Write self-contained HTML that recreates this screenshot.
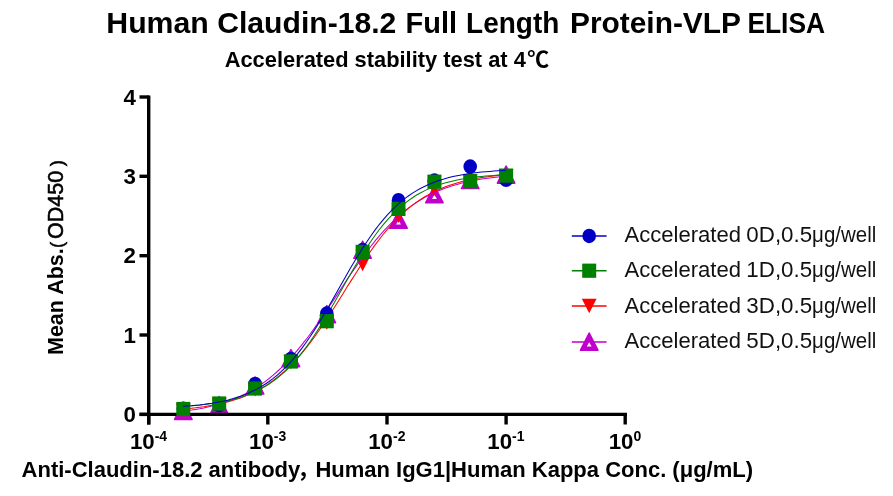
<!DOCTYPE html>
<html><head><meta charset="utf-8"><title>Human Claudin-18.2 Full Length Protein-VLP ELISA</title>
<style>
html,body{margin:0;padding:0;background:#fff;}
body{width:893px;height:496px;overflow:hidden;position:relative;font-family:"Liberation Sans","Noto Sans CJK SC",sans-serif;}
svg{position:absolute;left:0;top:0;display:block}
text{font-family:"Liberation Sans","Noto Sans CJK SC",sans-serif;fill:#000}
.tk{font-size:22.3px;font-weight:bold}
.lg{font-size:22.2px;fill:#111}
.title{font-size:28.9px;font-weight:bold}
.sub{font-size:21.85px;font-weight:bold}
.xl{font-size:22px;font-weight:bold}
.yl{font-size:21.5px;font-weight:bold}
</style></head><body>
<svg width="893" height="496" viewBox="0 0 893 496">
<rect width="893" height="496" fill="#fff"/>
<text id="title" class="title" y="33.3"><tspan x="106.3" textLength="102.5" lengthAdjust="spacingAndGlyphs">Human</tspan> <tspan x="217.2" textLength="179.2" lengthAdjust="spacingAndGlyphs">Claudin-18.2</tspan> <tspan x="405.5" textLength="51.5" lengthAdjust="spacingAndGlyphs">Full</tspan> <tspan x="466.1" textLength="93.2" lengthAdjust="spacingAndGlyphs">Length</tspan> <tspan x="570.0" textLength="170.4" lengthAdjust="spacingAndGlyphs">Protein-VLP</tspan> <tspan x="747.4" textLength="77.7" lengthAdjust="spacingAndGlyphs">ELISA</tspan></text>
<defs><filter id="soft" x="-2%" y="-2%" width="104%" height="104%" color-interpolation-filters="sRGB"><feGaussianBlur stdDeviation="0.5"/></filter></defs>
<g filter="url(#soft)">
<text id="sub" x="224.7" y="66.7" class="sub">Accelerated stability test at 4<tspan dx="1.5">℃</tspan></text>
<text id="yl" transform="translate(63.3,355) rotate(-90)" class="yl">Mean Abs.<tspan id="yp1" font-weight="normal" font-size="18.5" dx="0.4" dy="-0.8" stroke="#000" stroke-width="0.5">(</tspan><tspan id="yod" font-weight="normal" dx="2.8" dy="0.8" stroke="#000" stroke-width="0.55">OD450</tspan><tspan id="yp2" font-weight="normal" font-size="18.5" dx="4.6" dy="-0.8" stroke="#000" stroke-width="0.5">)</tspan></text>
<text id="xl" x="21.6" y="476.8" class="xl">Anti-Claudin-18.2 antibody<tspan x="297.3">，</tspan><tspan x="315.4">Human IgG1|Human Kappa Conc. (μg/mL)</tspan></text>
<polygon points="174.6,419.4 192.0,419.4 183.3,402.4" fill="#c000cc" stroke="#c000cc" stroke-width="1.6" stroke-linejoin="round"/><polygon points="180.9,415.6 185.7,415.6 183.3,411.4" fill="#fff"/>
<polygon points="210.5,413.5 227.9,413.5 219.2,396.5" fill="#c000cc" stroke="#c000cc" stroke-width="1.6" stroke-linejoin="round"/><polygon points="216.8,409.7 221.6,409.7 219.2,405.5" fill="#fff"/>
<polygon points="246.4,394.0 263.8,394.0 255.1,377.0" fill="#c000cc" stroke="#c000cc" stroke-width="1.6" stroke-linejoin="round"/><polygon points="252.7,390.2 257.5,390.2 255.1,386.0" fill="#fff"/>
<polygon points="282.2,366.6 299.6,366.6 290.9,349.6" fill="#c000cc" stroke="#c000cc" stroke-width="1.6" stroke-linejoin="round"/><polygon points="288.5,362.8 293.3,362.8 290.9,358.6" fill="#fff"/>
<polygon points="318.1,322.6 335.5,322.6 326.8,305.6" fill="#c000cc" stroke="#c000cc" stroke-width="1.6" stroke-linejoin="round"/><polygon points="324.4,318.8 329.2,318.8 326.8,314.6" fill="#fff"/>
<polygon points="353.9,258.3 371.3,258.3 362.6,241.3" fill="#c000cc" stroke="#c000cc" stroke-width="1.6" stroke-linejoin="round"/><polygon points="360.2,254.5 365.0,254.5 362.6,250.3" fill="#fff"/>
<polygon points="389.8,228.2 407.2,228.2 398.5,211.2" fill="#c000cc" stroke="#c000cc" stroke-width="1.6" stroke-linejoin="round"/><polygon points="396.1,224.4 400.9,224.4 398.5,220.2" fill="#fff"/>
<polygon points="425.7,202.8 443.1,202.8 434.4,185.8" fill="#c000cc" stroke="#c000cc" stroke-width="1.6" stroke-linejoin="round"/><polygon points="432.0,199.0 436.8,199.0 434.4,194.8" fill="#fff"/>
<polygon points="461.5,188.5 478.9,188.5 470.2,171.5" fill="#c000cc" stroke="#c000cc" stroke-width="1.6" stroke-linejoin="round"/><polygon points="467.8,184.7 472.6,184.7 470.2,180.5" fill="#fff"/>
<polygon points="497.4,183.1 514.8,183.1 506.1,166.1" fill="#c000cc" stroke="#c000cc" stroke-width="1.6" stroke-linejoin="round"/><polygon points="503.7,179.3 508.5,179.3 506.1,175.1" fill="#fff"/>
<polygon points="175.9,403.6 190.7,403.6 183.3,418.1" fill="#ff0000"/>
<polygon points="211.8,397.7 226.6,397.7 219.2,412.2" fill="#ff0000"/>
<polygon points="247.7,382.1 262.5,382.1 255.1,396.6" fill="#ff0000"/>
<polygon points="283.5,354.8 298.3,354.8 290.9,369.3" fill="#ff0000"/>
<polygon points="319.4,315.2 334.2,315.2 326.8,329.7" fill="#ff0000"/>
<polygon points="355.2,256.8 370.0,256.8 362.6,271.3" fill="#ff0000"/>
<polygon points="391.1,208.4 405.9,208.4 398.5,222.9" fill="#ff0000"/>
<polygon points="427.0,181.3 441.8,181.3 434.4,195.8" fill="#ff0000"/>
<polygon points="462.8,173.9 477.6,173.9 470.2,188.4" fill="#ff0000"/>
<polygon points="498.7,169.2 513.5,169.2 506.1,183.7" fill="#ff0000"/>
<path d="M148.7,95.4 V424.5 M139.5,414.4 H627.0" stroke="#000" stroke-width="3.4" fill="none"/>
<path d="M139.5,414.4 H148.7" stroke="#000" stroke-width="3.4"/>
<path d="M139.5,335.0 H148.7" stroke="#000" stroke-width="3.4"/>
<path d="M139.5,255.7 H148.7" stroke="#000" stroke-width="3.4"/>
<path d="M139.5,176.3 H148.7" stroke="#000" stroke-width="3.4"/>
<path d="M139.5,97.0 H148.7" stroke="#000" stroke-width="3.4"/>
<path d="M148.7,414.4 V424.5" stroke="#000" stroke-width="3.4"/>
<path d="M267.8,414.4 V424.5" stroke="#000" stroke-width="3.4"/>
<path d="M387.0,414.4 V424.5" stroke="#000" stroke-width="3.4"/>
<path d="M506.1,414.4 V424.5" stroke="#000" stroke-width="3.4"/>
<path d="M625.2,414.4 V424.5" stroke="#000" stroke-width="3.4"/>
<text x="135.9" y="421.9" text-anchor="end" class="tk">0</text>
<text x="135.9" y="342.5" text-anchor="end" class="tk">1</text>
<text x="135.9" y="263.2" text-anchor="end" class="tk">2</text>
<text x="135.9" y="183.8" text-anchor="end" class="tk">3</text>
<text x="135.9" y="104.5" text-anchor="end" class="tk">4</text>
<text x="129.9" y="448.5" class="tk">10<tspan dy="-7.6" font-size="14">-4</tspan></text>
<text x="249.0" y="448.5" class="tk">10<tspan dy="-7.6" font-size="14">-3</tspan></text>
<text x="368.2" y="448.5" class="tk">10<tspan dy="-7.6" font-size="14">-2</tspan></text>
<text x="487.3" y="448.5" class="tk">10<tspan dy="-7.6" font-size="14">-1</tspan></text>
<text x="608.7" y="448.5" class="tk">10<tspan dy="-7.6" font-size="14">0</tspan></text>
<polyline points="183.3,411.2 187.4,410.7 191.5,410.1 195.6,409.4 199.7,408.7 203.8,407.9 207.8,407.0 211.9,406.1 216.0,405.0 220.1,403.8 224.2,402.6 228.3,401.2 232.4,399.7 236.4,398.0 240.5,396.2 244.6,394.2 248.7,392.1 252.8,389.8 256.9,387.3 261.0,384.6 265.0,381.6 269.1,378.5 273.2,375.1 277.3,371.5 281.4,367.7 285.5,363.6 289.6,359.3 293.6,354.7 297.7,349.9 301.8,344.9 305.9,339.7 310.0,334.2 314.1,328.6 318.1,322.8 322.2,316.9 326.3,310.9 330.4,304.8 334.5,298.6 338.6,292.4 342.7,286.2 346.7,280.1 350.8,274.0 354.9,268.1 359.0,262.3 363.1,256.6 367.2,251.1 371.3,245.8 375.3,240.7 379.4,235.8 383.5,231.2 387.6,226.8 391.7,222.6 395.8,218.7 399.9,215.0 403.9,211.6 408.0,208.4 412.1,205.4 416.2,202.6 420.3,200.0 424.4,197.6 428.5,195.5 432.5,193.4 436.6,191.6 440.7,189.9 444.8,188.3 448.9,186.9 453.0,185.6 457.1,184.4 461.1,183.3 465.2,182.3 469.3,181.4 473.4,180.6 477.5,179.8 481.6,179.1 485.6,178.5 489.7,177.9 493.8,177.4 497.9,177.0 502.0,176.6 506.1,176.2" fill="none" stroke="#c000cc" stroke-width="1.05"/>
<polyline points="183.3,409.0 187.4,408.6 191.5,408.2 195.6,407.8 199.7,407.2 203.8,406.7 207.8,406.0 211.9,405.3 216.0,404.6 220.1,403.7 224.2,402.8 228.3,401.7 232.4,400.6 236.4,399.3 240.5,397.9 244.6,396.3 248.7,394.6 252.8,392.8 256.9,390.7 261.0,388.5 265.0,386.1 269.1,383.4 273.2,380.5 277.3,377.4 281.4,374.0 285.5,370.4 289.6,366.5 293.6,362.4 297.7,357.9 301.8,353.2 305.9,348.2 310.0,343.0 314.1,337.5 318.1,331.8 322.2,325.9 326.3,319.8 330.4,313.5 334.5,307.2 338.6,300.7 342.7,294.2 346.7,287.6 350.8,281.1 354.9,274.7 359.0,268.3 363.1,262.1 367.2,256.1 371.3,250.2 375.3,244.6 379.4,239.2 383.5,234.0 387.6,229.1 391.7,224.5 395.8,220.1 399.9,216.1 403.9,212.3 408.0,208.7 412.1,205.4 416.2,202.4 420.3,199.6 424.4,197.0 428.5,194.6 432.5,192.5 436.6,190.5 440.7,188.7 444.8,187.0 448.9,185.5 453.0,184.2 457.1,182.9 461.1,181.8 465.2,180.8 469.3,179.9 473.4,179.0 477.5,178.3 481.6,177.6 485.6,177.0 489.7,176.4 493.8,175.9 497.9,175.5 502.0,175.1 506.1,174.7" fill="none" stroke="#ff0000" stroke-width="1.05"/>
<polyline points="183.3,406.3 187.4,406.1 191.5,405.8 195.6,405.4 199.7,405.0 203.8,404.6 207.8,404.1 211.9,403.6 216.0,403.0 220.1,402.3 224.2,401.5 228.3,400.6 232.4,399.7 236.4,398.6 240.5,397.4 244.6,396.0 248.7,394.5 252.8,392.8 256.9,390.9 261.0,388.8 265.0,386.5 269.1,384.0 273.2,381.1 277.3,378.0 281.4,374.7 285.5,371.0 289.6,366.9 293.6,362.6 297.7,357.9 301.8,352.9 305.9,347.5 310.0,341.8 314.1,335.8 318.1,329.5 322.2,323.0 326.3,316.2 330.4,309.3 334.5,302.2 338.6,295.0 342.7,287.8 346.7,280.6 350.8,273.5 354.9,266.5 359.0,259.7 363.1,253.1 367.2,246.8 371.3,240.7 375.3,235.0 379.4,229.5 383.5,224.4 387.6,219.7 391.7,215.3 395.8,211.2 399.9,207.4 403.9,204.0 408.0,200.8 412.1,198.0 416.2,195.3 420.3,193.0 424.4,190.9 428.5,188.9 432.5,187.2 436.6,185.6 440.7,184.3 444.8,183.0 448.9,181.9 453.0,180.9 457.1,180.0 461.1,179.2 465.2,178.5 469.3,177.9 473.4,177.3 477.5,176.8 481.6,176.4 485.6,176.0 489.7,175.7 493.8,175.4 497.9,175.1 502.0,174.8 506.1,174.6" fill="none" stroke="#008000" stroke-width="1.05"/>
<ellipse cx="183.3" cy="408.8" rx="6.8" ry="7.25" fill="#0000c4"/>
<ellipse cx="219.2" cy="405.1" rx="6.8" ry="7.25" fill="#0000c4"/>
<ellipse cx="255.1" cy="384.0" rx="6.8" ry="7.25" fill="#0000c4"/>
<ellipse cx="290.9" cy="358.9" rx="6.8" ry="7.25" fill="#0000c4"/>
<ellipse cx="326.8" cy="313.6" rx="6.8" ry="7.25" fill="#0000c4"/>
<ellipse cx="362.6" cy="250.1" rx="6.8" ry="7.25" fill="#0000c4"/>
<ellipse cx="398.5" cy="200.2" rx="6.8" ry="7.25" fill="#0000c4"/>
<ellipse cx="434.4" cy="180.6" rx="6.8" ry="7.25" fill="#0000c4"/>
<ellipse cx="470.2" cy="166.6" rx="6.8" ry="7.25" fill="#0000c4"/>
<ellipse cx="506.1" cy="179.8" rx="6.8" ry="7.25" fill="#0000c4"/>
<rect x="176.3" y="401.9" width="14" height="14.2" fill="#008000"/>
<rect x="212.2" y="396.4" width="14" height="14.2" fill="#008000"/>
<rect x="248.1" y="381.4" width="14" height="14.2" fill="#008000"/>
<rect x="283.9" y="354.4" width="14" height="14.2" fill="#008000"/>
<rect x="319.8" y="314.1" width="14" height="14.2" fill="#008000"/>
<rect x="355.6" y="244.8" width="14" height="14.2" fill="#008000"/>
<rect x="391.5" y="201.8" width="14" height="14.2" fill="#008000"/>
<rect x="427.4" y="174.6" width="14" height="14.2" fill="#008000"/>
<rect x="463.2" y="174.1" width="14" height="14.2" fill="#008000"/>
<rect x="499.1" y="168.5" width="14" height="14.2" fill="#008000"/>
<polyline points="183.3,406.3 187.4,406.0 191.5,405.7 195.6,405.3 199.7,404.9 203.8,404.4 207.8,403.8 211.9,403.2 216.0,402.5 220.1,401.7 224.2,400.9 228.3,399.9 232.4,398.8 236.4,397.6 240.5,396.2 244.6,394.7 248.7,393.0 252.8,391.1 256.9,389.1 261.0,386.8 265.0,384.3 269.1,381.5 273.2,378.4 277.3,375.1 281.4,371.4 285.5,367.5 289.6,363.2 293.6,358.6 297.7,353.6 301.8,348.4 305.9,342.7 310.0,336.8 314.1,330.6 318.1,324.1 322.2,317.4 326.3,310.5 330.4,303.5 334.5,296.3 338.6,289.1 342.7,281.8 346.7,274.7 350.8,267.6 354.9,260.7 359.0,253.9 363.1,247.4 367.2,241.2 371.3,235.2 375.3,229.6 379.4,224.3 383.5,219.3 387.6,214.7 391.7,210.3 395.8,206.4 399.9,202.7 403.9,199.3 408.0,196.2 412.1,193.4 416.2,190.9 420.3,188.5 424.4,186.5 428.5,184.6 432.5,182.9 436.6,181.3 440.7,180.0 444.8,178.7 448.9,177.6 453.0,176.6 457.1,175.8 461.1,175.0 465.2,174.3 469.3,173.6 473.4,173.1 477.5,172.6 481.6,172.1 485.6,171.7 489.7,171.4 493.8,171.1 497.9,170.8 502.0,170.6 506.1,170.3" fill="none" stroke="#0000c4" stroke-width="1.05"/>
<path d="M571.8,235.9 H606.6" stroke="#0000c4" stroke-width="1.5"/>
<ellipse cx="589.2" cy="235.9" rx="6.8" ry="7.25" fill="#0000c4"/>
<text y="242.3" class="lg"><tspan x="624.5" textLength="116.5" lengthAdjust="spacingAndGlyphs">Accelerated</tspan> <tspan x="746.3" textLength="65.9" lengthAdjust="spacingAndGlyphs">0D,0.5</tspan><tspan x="812.1" textLength="64.2" lengthAdjust="spacingAndGlyphs">μg/well</tspan></text>
<path d="M571.8,270.7 H606.6" stroke="#008000" stroke-width="1.5"/>
<rect x="582.2" y="263.6" width="14" height="14.2" fill="#008000"/>
<text y="277.1" class="lg"><tspan x="624.5" textLength="116.5" lengthAdjust="spacingAndGlyphs">Accelerated</tspan> <tspan x="746.3" textLength="65.9" lengthAdjust="spacingAndGlyphs">1D,0.5</tspan><tspan x="812.1" textLength="64.2" lengthAdjust="spacingAndGlyphs">μg/well</tspan></text>
<path d="M571.8,306.0 H606.6" stroke="#ff0000" stroke-width="1.5"/>
<polygon points="581.8,298.8 596.6,298.8 589.2,313.3" fill="#ff0000"/>
<text y="312.7" class="lg"><tspan x="624.5" textLength="116.5" lengthAdjust="spacingAndGlyphs">Accelerated</tspan> <tspan x="746.3" textLength="65.9" lengthAdjust="spacingAndGlyphs">3D,0.5</tspan><tspan x="812.1" textLength="64.2" lengthAdjust="spacingAndGlyphs">μg/well</tspan></text>
<path d="M571.8,342.0 H606.6" stroke="#c000cc" stroke-width="1.5"/>
<polygon points="580.5,350.2 597.9,350.2 589.2,333.2" fill="#c000cc" stroke="#c000cc" stroke-width="1.6" stroke-linejoin="round"/><polygon points="586.8,346.4 591.6,346.4 589.2,342.2" fill="#fff"/>
<text y="348.0" class="lg"><tspan x="624.5" textLength="116.5" lengthAdjust="spacingAndGlyphs">Accelerated</tspan> <tspan x="746.3" textLength="65.9" lengthAdjust="spacingAndGlyphs">5D,0.5</tspan><tspan x="812.1" textLength="64.2" lengthAdjust="spacingAndGlyphs">μg/well</tspan></text>
</g>
</svg>
</body></html>
